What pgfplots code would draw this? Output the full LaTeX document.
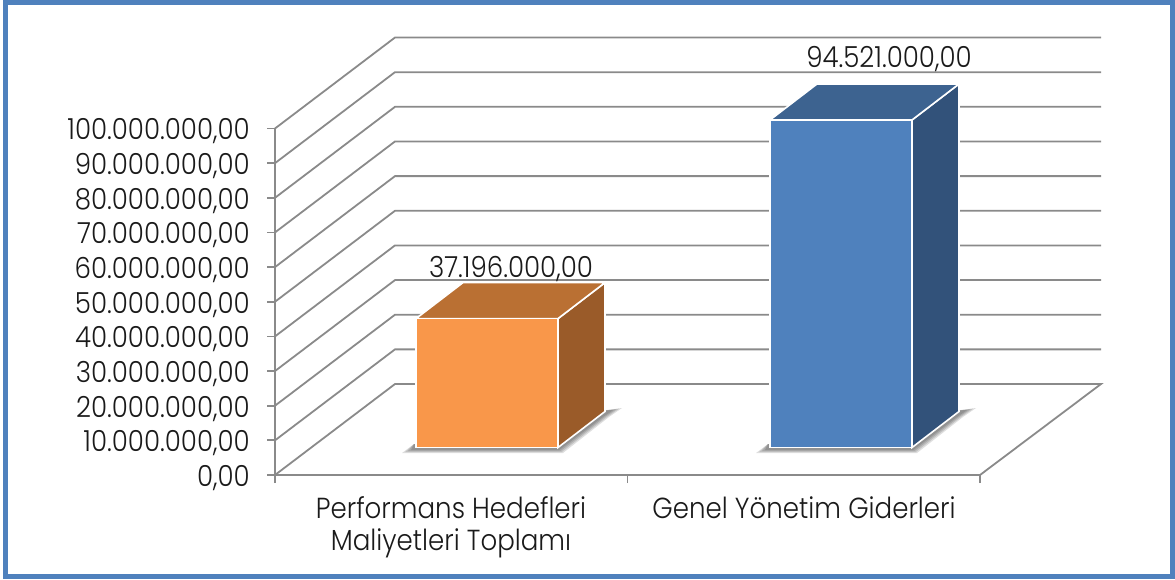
\documentclass[border=0pt]{standalone}
\usepackage{fontspec}
\setmainfont[FakeStretch=0.9]{Poppins Light}
\usepackage{pgfplots}
\pgfplotsset{compat=1.18}
\definecolor{gridc}{HTML}{8A8A8A}
\definecolor{framec}{HTML}{4F81BD}
\definecolor{txt}{HTML}{1A1A1A}
\definecolor{orF}{HTML}{F9974A}
\definecolor{orT}{HTML}{BA7033}
\definecolor{orS}{HTML}{9A5B29}
\definecolor{blF}{HTML}{4F81BD}
\definecolor{blT}{HTML}{3D6390}
\definecolor{blS}{HTML}{32527A}
\newcommand{\lab}{\fontsize{29}{32}\selectfont\color{txt}}
\begin{document}
\begin{tikzpicture}[x=1pt,y=1pt]
\useasboundingbox (0,0) rectangle (1175,579);
\begin{axis}[
  at={(275pt,104pt)}, anchor=south west,
  scale only axis, width=705pt, height=346.5pt,
  xmin=275, xmax=980, ymin=0, ymax=100000000,
  clip=false,
  axis lines=left, axis line style={-, draw=gridc, line width=1.8pt},
  tick style={draw=gridc, line width=1.8pt},
  minor tick style={draw=gridc, line width=1.8pt},
  tick align=outside,
  major tick length=8pt, minor tick length=8pt,
  xtick={451,804},
  xticklabels={{Performans Hedefleri\\Maliyetleri Toplamı},{Genel Yönetim Giderleri}},
  major x tick style={draw=none},
  minor xtick={275,627.5,980},
  xticklabel style={align=center, font=\lab, anchor=north, yshift=-10.5pt, text depth=0pt},
  ytick={0,10000000,20000000,30000000,40000000,50000000,60000000,70000000,80000000,90000000,100000000},
  scaled y ticks=false,
  yticklabel style={font=\lab, anchor=east, xshift=-17pt, yshift=-3pt, inner sep=0pt,
    /pgf/number format/.cd, fixed, fixed zerofill, precision=2, 1000 sep={.}, dec sep={,}, assume math mode=true},
]
\addplot[gridc, line width=1.8pt] coordinates {(275,0)(395,26260000)(1101,26260000)(980,0)};
\addplot[gridc, line width=1.8pt] coordinates {(275,10000000)(395,36260000)(1101,36260000)};
\addplot[gridc, line width=1.8pt] coordinates {(275,20000000)(395,46260000)(1101,46260000)};
\addplot[gridc, line width=1.8pt] coordinates {(275,30000000)(395,56260000)(1101,56260000)};
\addplot[gridc, line width=1.8pt] coordinates {(275,40000000)(395,66260000)(1101,66260000)};
\addplot[gridc, line width=1.8pt] coordinates {(275,50000000)(395,76260000)(1101,76260000)};
\addplot[gridc, line width=1.8pt] coordinates {(275,60000000)(395,86260000)(1101,86260000)};
\addplot[gridc, line width=1.8pt] coordinates {(275,70000000)(395,96260000)(1101,96260000)};
\addplot[gridc, line width=1.8pt] coordinates {(275,80000000)(395,106260000)(1101,106260000)};
\addplot[gridc, line width=1.8pt] coordinates {(275,90000000)(395,116260000)(1101,116260000)};
\addplot[gridc, line width=1.8pt] coordinates {(275,100000000)(395,126260000)(1101,126260000)};
\end{axis}
% frame and soft floor shadows, in reference pixels
\begin{scope}[yshift=579pt,y=-1pt]
\draw[framec, line width=5pt] (5.5,2.5) rectangle (1172.5,576.5);
\foreach \s/\e/\w in {0/0/0,3/1/2,6/2/4,9/3/6}{
  \fill[black, opacity=0.13] (402+\s,453-\e) -- (414,444) -- (558,444) -- (600,411) -- (622-\w*1.4,408+\e*0.6) -- (609-\w,417) -- (563-\w*0.6,453-\e) -- cycle;
  \fill[black, opacity=0.13] (756+\s,453-\e) -- (768,444) -- (912,444) -- (954,411) -- (976-\w*1.4,408+\e*0.6) -- (963-\w,417) -- (917-\w*0.6,453-\e) -- cycle;
}
\end{scope}
\begin{axis}[
  at={(275pt,104pt)}, anchor=south west,
  scale only axis, width=705pt, height=346.5pt,
  xmin=275, xmax=980, ymin=-7940000, ymax=92060000,
  clip=false, axis lines=none,
  scaled y ticks=false,
]
\addplot[orS, fill=orS, draw=white, line width=1.6pt] coordinates {(558,0)(605,10390000)(605,47586000)(558,37196000)} -- cycle;
\addplot[orT, fill=orT, draw=white, line width=1.6pt] coordinates {(416,37196000)(463,47586000)(605,47586000)(558,37196000)} -- cycle;
\addplot[ybar, bar shift=0pt, bar width=142pt, fill=orF, draw=white, line width=1.6pt,
  nodes near coords,
  every node near coord/.style={font=\lab, anchor=base, xshift=24pt, yshift=41.5pt,
    /pgf/number format/.cd, fixed, fixed zerofill, precision=2, 1000 sep={.}, dec sep={,}, assume math mode=true}]
  coordinates {(487,37196000)};
\addplot[blS, fill=blS, draw=white, line width=1.6pt] coordinates {(912,0)(959,10390000)(959,104911000)(912,94521000)} -- cycle;
\addplot[blT, fill=blT, draw=white, line width=1.6pt] coordinates {(770,94521000)(817,104911000)(959,104911000)(912,94521000)} -- cycle;
\addplot[ybar, bar shift=0pt, bar width=142pt, fill=blF, draw=white, line width=1.6pt,
  nodes near coords,
  every node near coord/.style={font=\lab, anchor=base, xshift=48pt, yshift=52pt,
    /pgf/number format/.cd, fixed, fixed zerofill, precision=2, 1000 sep={.}, dec sep={,}, assume math mode=true}]
  coordinates {(841,94521000)};
\end{axis}
\end{tikzpicture}
\end{document}
